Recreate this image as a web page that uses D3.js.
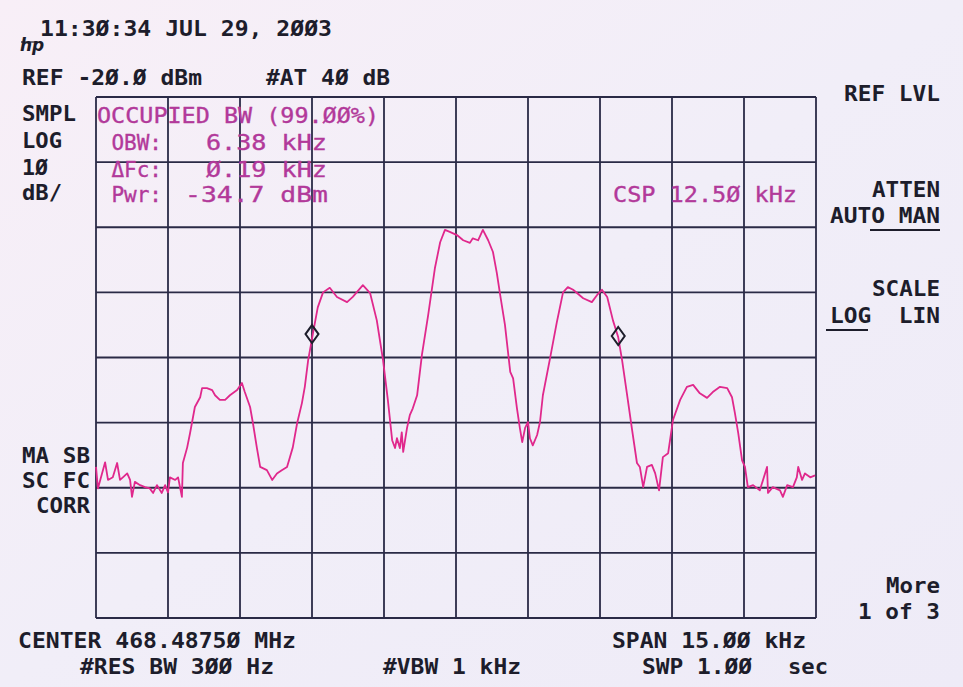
<!DOCTYPE html>
<html><head><meta charset="utf-8">
<script src="https://cdn.jsdelivr.net/npm/d3@7"></script>
<style>
html,body{margin:0;padding:0;background:#f2eef8;}
svg{display:block;}
</style></head>
<body>
<svg id="chart" width="963" height="687"></svg>
<script>
// ---- data (frequency offset from center in kHz, level in dBm) ----
const freqKHz = [-7.5,-7.46,-7.31,-7.25,-7.15,-7.06,-7.00,-6.94,-6.85,-6.79,-6.75,-6.69,-6.58,-6.48,-6.38,-6.31,-6.23,-6.13,-6.06,-6.00,-5.96,-5.85,-5.79,-5.71,-5.69,-5.60,-5.54,-5.44,-5.33,-5.29,-5.19,-5.08,-5.02,-4.92,-4.81,-4.71,-4.56,-4.46,-4.40,-4.29,-4.23,-4.15,-4.08,-3.94,-3.83,-3.73,-3.63,-3.52,-3.46,-3.40,-3.31,-3.21,-3.15,-3.08,-2.98,-2.88,-2.77,-2.63,-2.48,-2.27,-2.15,-1.94,-1.79,-1.65,-1.52,-1.42,-1.33,-1.27,-1.23,-1.17,-1.13,-1.10,-1.02,-0.96,-0.90,-0.81,-0.71,-0.58,-0.44,-0.33,-0.23,-0.13,0.02,0.15,0.29,0.35,0.46,0.56,0.67,0.77,0.85,0.92,1.02,1.13,1.19,1.27,1.33,1.38,1.44,1.50,1.54,1.60,1.69,1.75,1.81,1.96,2.10,2.23,2.33,2.44,2.65,2.83,2.94,3.04,3.15,3.27,3.38,3.46,3.56,3.67,3.77,3.83,3.90,3.98,4.08,4.15,4.23,4.31,4.42,4.52,4.67,4.81,4.94,5.08,5.23,5.35,5.50,5.65,5.75,5.81,5.88,5.96,6.02,6.08,6.19,6.33,6.48,6.50,6.60,6.75,6.81,6.90,7.02,7.10,7.13,7.21,7.27,7.38,7.48];
const levelDbm = [-76.8,-80.1,-76.1,-78.8,-78.4,-76.2,-78.8,-78.4,-77.8,-78.8,-81.4,-79.1,-79.6,-79.9,-80.1,-80.8,-79.6,-80.8,-79.6,-80.7,-78.4,-78.8,-78.4,-81.4,-76.2,-73.8,-71.6,-67.6,-66.1,-64.7,-64.7,-65.0,-65.8,-66.5,-66.5,-65.8,-65.0,-63.9,-65.3,-67.6,-70.1,-73.8,-76.8,-77.3,-78.8,-77.8,-77.3,-76.8,-75.3,-73.8,-70.1,-67.0,-64.5,-60.4,-56.3,-52.3,-50.0,-49.3,-50.7,-51.5,-50.7,-48.9,-50.1,-54.3,-60.4,-66.5,-72.7,-73.9,-72.4,-73.9,-71.5,-74.5,-70.8,-68.8,-67.8,-65.8,-59.6,-53.5,-46.3,-42.3,-40.4,-40.7,-41.2,-42.0,-42.4,-41.7,-42.0,-40.4,-42.0,-43.8,-47.0,-50.4,-55.0,-62.2,-63.2,-67.8,-70.8,-73.0,-70.8,-69.9,-72.4,-73.5,-71.9,-69.9,-65.8,-60.1,-54.6,-50.0,-49.2,-49.6,-50.9,-51.5,-50.4,-49.6,-50.7,-54.3,-56.9,-60.4,-65.5,-71.2,-76.2,-76.8,-79.9,-76.8,-76.5,-77.8,-80.4,-75.3,-74.7,-69.6,-66.5,-64.5,-64.2,-65.5,-66.2,-65.3,-64.5,-64.7,-66.1,-68.5,-71.6,-75.8,-76.8,-79.9,-79.6,-80.4,-76.8,-80.8,-79.9,-80.4,-81.4,-79.6,-79.9,-78.4,-76.8,-78.8,-77.8,-78.4,-78.1];
const markerFreq = [-3.00, 3.38];
const markerLevel = [-56.4, -56.7];

const freqDomain = [-7.5, 7.5];       // span 15 kHz, 1.5 kHz/div
const levelDomain = [-100, -20];      // ref -20 dBm, 10 dB/div
const freqGrid = d3.range(-7.5, 7.51, 1.5);
const levelGrid = d3.range(-100, -19, 10);

// text content
const headerTexts = ["11:3Ø:34 JUL 29, 2ØØ3", "REF -2Ø.Ø dBm", "#AT 4Ø dB"];
const leftLabels = ["SMPL", "LOG", "1Ø", "dB/", "MA SB", "SC FC", "CORR"];
const rightLabels = ["REF LVL", "ATTEN", "AUTO MAN", "SCALE", "LOG  LIN", "More", "1 of 3"];
const footerTexts = ["CENTER 468.4875Ø MHz", "SPAN 15.ØØ kHz", "#RES BW 3ØØ Hz", "#VBW 1 kHz", "SWP 1.ØØ", "sec"];
const obwLabels = ["OBW:", "ΔFc:", "Pwr:"];
const obwValues = ["6.38 kHz", "Ø.19 kHz", "-34.7 dBm"];
const obwTitle = "OCCUPIED BW (99.ØØ%)";
const cspText = "CSP 12.5Ø kHz";

// ---- drawing ----
const svg = d3.select("#chart");
const W = 963, H = 687;
const x = d3.scaleLinear().domain(freqDomain).range([96, 816]);
const y = d3.scaleLinear().domain(levelDomain).range([618, 97]);

const defs = svg.append("defs");
const grad = defs.append("linearGradient").attr("id","bg").attr("x1","0").attr("y1","0").attr("x2","1").attr("y2","1");
grad.append("stop").attr("offset","0").attr("stop-color","#f8eff7");
grad.append("stop").attr("offset","0.5").attr("stop-color","#f1eef8");
grad.append("stop").attr("offset","1").attr("stop-color","#eeebf7");
svg.append("rect").attr("width",W).attr("height",H).attr("fill","url(#bg)");

const ink = "#1d1d2b";
const gridCol = "#2a2a46";
const magenta = "#b2399a";
const FONT = "'DejaVu Sans Mono', 'Liberation Mono', monospace";

// grid
const g = svg.append("g");
g.selectAll("line.v").data(freqGrid).join("line")
  .attr("x1", d => x(d)).attr("x2", d => x(d))
  .attr("y1", y(levelDomain[1])).attr("y2", y(levelDomain[0]))
  .attr("stroke", gridCol).attr("stroke-width", 1.8);
g.selectAll("line.h").data(levelGrid).join("line")
  .attr("y1", d => y(d)).attr("y2", d => y(d))
  .attr("x1", x(freqDomain[0])).attr("x2", x(freqDomain[1]))
  .attr("stroke", gridCol).attr("stroke-width", 1.8);

function txt(str, x0, base, opts = {}) {
  const t = svg.append("text")
    .attr("x", x0).attr("y", base)
    .attr("font-family", FONT)
    .attr("font-size", opts.size || 21)
    .attr("font-weight", opts.weight || "bold")
    .attr("fill", opts.color || ink)
    .attr("text-anchor", opts.anchor || "start")
    .style("white-space", "pre")
    .attr("xml:space", "preserve")
    .text(str);
  if (opts.stroke) t.attr("stroke", opts.color).attr("stroke-width", opts.stroke);
  if (opts.width) t.attr("textLength", opts.width).attr("lengthAdjust", "spacingAndGlyphs");
  return t;
}
const P = 14; // character pitch
const w = s => s.length * P - 2;

// header
txt(headerTexts[0], 40, 36, {width: w(headerTexts[0])});
txt(headerTexts[1], 22, 85, {width: w(headerTexts[1])});
txt(headerTexts[2], 266, 85, {width: w(headerTexts[2])});
// hp logo
svg.append("text").attr("x", 20).attr("y", 51).attr("font-family", "'DejaVu Sans', sans-serif")
  .attr("font-size", 17).attr("font-style", "italic").attr("font-weight", "bold").attr("fill", ink).text("hp");
svg.append("line").attr("x1", 21).attr("y1", 42).attr("x2", 38).attr("y2", 42).attr("stroke", ink).attr("stroke-width", 1.2);

// left labels
const leftPos = [[22,121],[22,148],[22,175],[22,200],[22,463],[22,488],[36,513]];
leftLabels.forEach((s, i) => txt(s, leftPos[i][0], leftPos[i][1], {width: w(s)}));

// right labels (right aligned at 940)
const rightY = [101, 197, 223, 296, 323, 593, 619];
rightLabels.forEach((s, i) => txt(s, 940 - w(s), rightY[i], {width: w(s)}));
// underlines MAN and LOG
svg.append("line").attr("x1", 870).attr("x2", 940).attr("y1", 230).attr("y2", 230).attr("stroke", ink).attr("stroke-width", 2);
svg.append("line").attr("x1", 826).attr("x2", 868).attr("y1", 330).attr("y2", 330).attr("stroke", ink).attr("stroke-width", 2);

// footer
txt(footerTexts[0], 18, 648, {width: w(footerTexts[0])});
txt(footerTexts[1], 612, 648, {width: w(footerTexts[1])});
txt(footerTexts[2], 80, 674, {width: w(footerTexts[2])});
txt(footerTexts[3], 383, 674, {width: w(footerTexts[3])});
txt(footerTexts[4], 642, 674, {width: w(footerTexts[4])});
txt(footerTexts[5], 788, 674, {width: w(footerTexts[5])});

// occupied bandwidth readout (magenta)
const mOpt = {color: magenta, weight: "normal", size: 21, stroke: 0.35};
txt(obwTitle, 97, 123, Object.assign({width: 282}, mOpt));
const labY = [150, 177, 202];
obwLabels.forEach((s, i) => txt(s, 162, labY[i], Object.assign({anchor: "end"}, mOpt)));
txt(obwValues[0], 206, 150, Object.assign({width: 121}, mOpt));
txt(obwValues[1], 206, 177, Object.assign({width: 121}, mOpt));
txt(obwValues[2], 185, 202, Object.assign({width: 143}, mOpt));
txt(cspText, 613, 202, Object.assign({width: 184}, mOpt));

// trace
const pts = freqKHz.map((f, i) => [f, levelDbm[i]]);
const line = d3.line().x(d => x(d[0])).y(d => y(d[1]));
svg.append("path").datum(pts).attr("d", line)
  .attr("fill", "none").attr("stroke", "#e0288c").attr("stroke-width", 1.8)
  .attr("stroke-linejoin", "round");

// markers (diamonds)
markerFreq.forEach((f, i) => {
  const cx = x(f), cy = y(markerLevel[i]);
  svg.append("path")
    .attr("d", `M${cx},${cy-9} L${cx+6.5},${cy} L${cx},${cy+9} L${cx-6.5},${cy} Z`)
    .attr("fill", "none").attr("stroke", ink).attr("stroke-width", 2);
});
</script>
</body></html>
